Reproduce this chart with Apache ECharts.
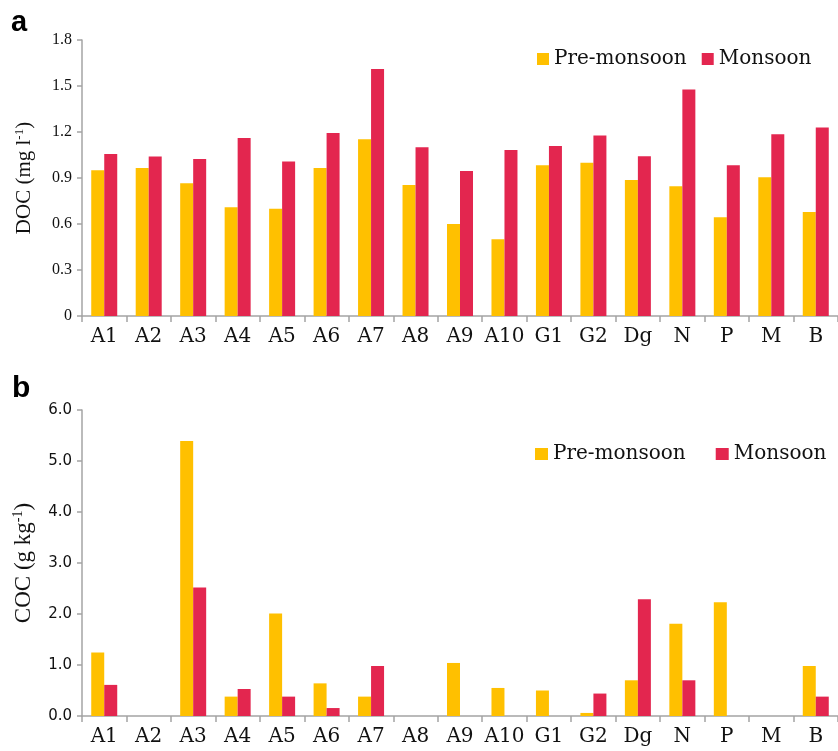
<!DOCTYPE html>
<html>
<head>
<meta charset="utf-8">
<script src="https://cdn.jsdelivr.net/npm/echarts@6/dist/echarts.min.js"></script>
<style>
  html, body { margin: 0; padding: 0; background: #fff; }
  #main { width: 838px; height: 751px; }
</style>
</head>
<body>
<div id="main"></div>
<script>
// sites
const categories = ['A1', 'A2', 'A3', 'A4', 'A5', 'A6', 'A7', 'A8', 'A9', 'A10', 'G1', 'G2', 'Dg', 'N', 'P', 'M', 'B'];
const seriesNames = ['Pre-monsoon', 'Monsoon'];

// panel a: DOC (mg l-1)
const docPre = [0.95, 0.965, 0.865, 0.71, 0.70, 0.965, 1.153, 0.855, 0.60, 0.50, 0.983, 1.0, 0.887, 0.846, 0.644, 0.905, 0.678];
const docMon = [1.057, 1.04, 1.024, 1.161, 1.007, 1.194, 1.611, 1.10, 0.946, 1.083, 1.109, 1.177, 1.042, 1.477, 0.983, 1.185, 1.229];

// panel b: COC (g kg-1)
const cocPre = [1.245, 0, 5.39, 0.38, 2.01, 0.64, 0.38, 0, 1.04, 0.55, 0.50, 0.06, 0.70, 1.81, 2.23, 0, 0.98];
const cocMon = [0.61, 0, 2.52, 0.53, 0.38, 0.156, 0.98, 0, 0, 0, 0, 0.44, 2.29, 0.70, 0, 0, 0.38];

const YELLOW = '#FFC000';
const RED = '#E3264F';
const AXIS_COLOR = '#a4a4a4';

const chart = echarts.init(document.getElementById('main'));

const catAxis = (gridIndex) => ({
  type: 'category',
  gridIndex,
  data: categories,
  boundaryGap: true,
  axisLine: { lineStyle: { color: AXIS_COLOR, width: 1.5 } },
  axisTick: { show: true, length: 6, lineStyle: { color: AXIS_COLOR, width: 1.5 } },
  axisLabel: {
    interval: 0,
    margin: 11,
    color: '#111',
    fontFamily: 'DejaVu Serif',
    fontSize: 20,
  },
  splitLine: { show: false },
});

const valAxis = (gridIndex, max, interval, labelStyle, name, rich) => ({
  type: 'value',
  gridIndex,
  min: 0,
  max,
  interval,
  axisLine: { show: true, lineStyle: { color: AXIS_COLOR, width: 1.5 } },
  axisTick: { show: true, length: 5, lineStyle: { color: AXIS_COLOR, width: 1.5 } },
  axisLabel: Object.assign({ margin: 10, color: '#111' }, labelStyle),
  splitLine: { show: false },
  name,
  nameLocation: 'middle',
  nameRotate: 90,
  nameGap: 46,
  nameTextStyle: { rich },
});

const barSeries = (name, data, color, axisIndex) => ({
  name,
  type: 'bar',
  xAxisIndex: axisIndex,
  yAxisIndex: axisIndex,
  data,
  barWidth: 13,
  barGap: '0%',
  itemStyle: { color },
  animation: false,
});

const legendText = { fontFamily: 'DejaVu Serif', fontSize: 20, color: '#111' };

chart.setOption({
  animation: false,
  grid: [
    { left: 82, top: 40, width: 762, height: 276 },
    { left: 82, top: 410, width: 756, height: 306 },
  ],
  legend: [
    {
      data: seriesNames,
      orient: 'horizontal',
      left: 532,
      top: 44,
      width: 320,
      icon: 'rect',
      itemWidth: 12,
      itemHeight: 12,
      itemGap: 15,
      textStyle: legendText,
    },
    {
      data: seriesNames,
      orient: 'horizontal',
      left: 530,
      top: 439,
      width: 320,
      icon: 'rect',
      itemWidth: 13,
      itemHeight: 12,
      itemGap: 30,
      textStyle: legendText,
    },
  ],
  xAxis: [catAxis(0), catAxis(1)],
  yAxis: [
    valAxis(0, 1.8, 0.3,
      {
        fontFamily: 'Liberation Serif',
        fontSize: 16,
        formatter: (v) => (v === 0 ? '0' : v.toFixed(1)),
      },
      '{t|DOC (mg l}{s|-1}{t|)}',
      {
        t: { fontFamily: 'Liberation Serif', fontSize: 21, color: '#111' },
        s: { fontFamily: 'Liberation Serif', fontSize: 13, color: '#111', padding: [0, 0, 10, 0] },
      }),
    valAxis(1, 6, 1,
      {
        fontFamily: 'DejaVu Sans',
        fontSize: 15,
        formatter: (v) => v.toFixed(1),
      },
      '{t|COC (g kg}{s|-1}{t|)}',
      {
        t: { fontFamily: 'Liberation Serif', fontSize: 23, color: '#111' },
        s: { fontFamily: 'Liberation Serif', fontSize: 14, color: '#111', padding: [0, 0, 11, 0] },
      }),
  ],
  graphic: [
    {
      type: 'text',
      left: 11,
      top: 8,
      style: { text: 'a', font: 'bold 29px Liberation Sans', fill: '#000' },
    },
    {
      type: 'text',
      left: 12,
      top: 374,
      style: { text: 'b', font: 'bold 30px Liberation Sans', fill: '#000' },
    },
  ],
  series: [
    barSeries(seriesNames[0], docPre, YELLOW, 0),
    barSeries(seriesNames[1], docMon, RED, 0),
    barSeries(seriesNames[0], cocPre, YELLOW, 1),
    barSeries(seriesNames[1], cocMon, RED, 1),
  ],
});
</script>
</body>
</html>
